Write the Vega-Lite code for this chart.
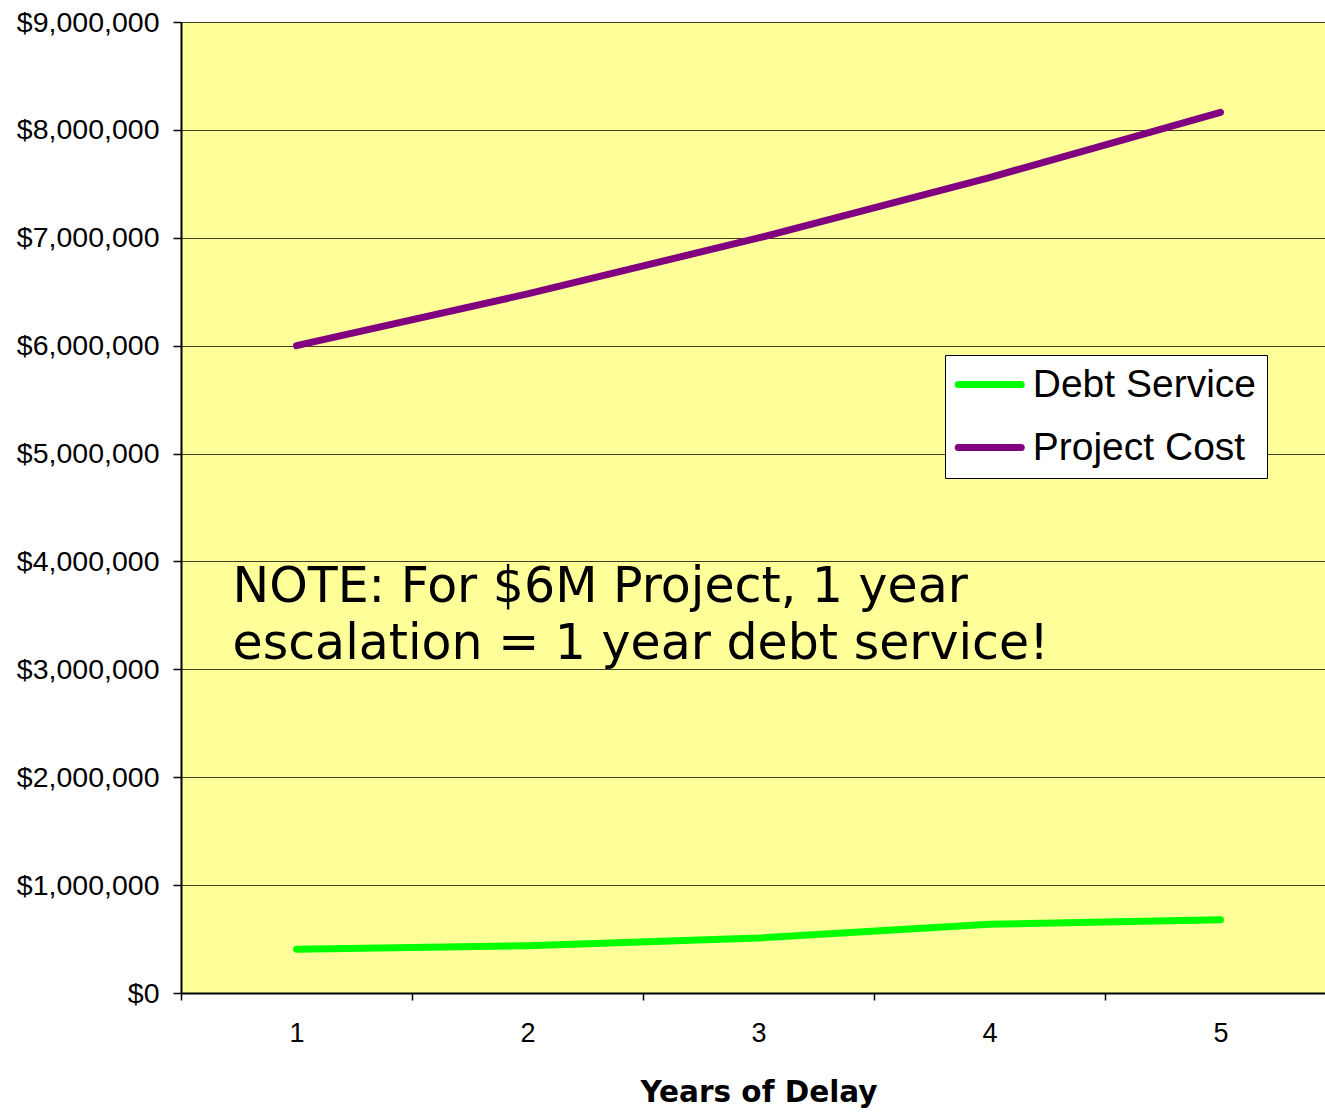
{
  "$schema": "https://vega.github.io/schema/vega-lite/v6.json",
  "autosize": "none",
  "width": 1155,
  "height": 971,
  "padding": {"left": 181, "top": 22, "right": 0, "bottom": 121},
  "background": "#ffffff",
  "datasets": {
    "series": [
      {"year": "1", "series": "Debt Service", "value": 405000},
      {"year": "2", "series": "Debt Service", "value": 438000},
      {"year": "3", "series": "Debt Service", "value": 510000},
      {"year": "4", "series": "Debt Service", "value": 637000},
      {"year": "5", "series": "Debt Service", "value": 679000},
      {"year": "1", "series": "Project Cost", "value": 6000000},
      {"year": "2", "series": "Project Cost", "value": 6480000},
      {"year": "3", "series": "Project Cost", "value": 6998400},
      {"year": "4", "series": "Project Cost", "value": 7558272},
      {"year": "5", "series": "Project Cost", "value": 8162934}
    ],
    "note": [
      {"year": "1", "value": 3624000, "text": ["NOTE: For $6M Project, 1 year", "escalation = 1 year debt service!"]}
    ]
  },
  "layer": [
    {
      "data": {"name": "series"},
      "mark": {"type": "line", "strokeWidth": 7, "strokeCap": "round", "strokeJoin": "round"},
      "encoding": {
        "x": {
          "field": "year", "type": "ordinal",
          "scale": {"paddingInner": 0, "paddingOuter": 0},
          "axis": {
            "title": "Years of Delay", "labelAngle": 0, "tickBand": "extent",
            "grid": false, "domainColor": "#000000", "domainWidth": 2,
            "tickColor": "#000000", "tickSize": 7, "tickWidth": 1.5,
            "labelFont": "Liberation Sans", "labelFontSize": 27, "labelColor": "#000000",
            "labelPadding": 20,
            "titleFont": "DejaVu Sans", "titleFontWeight": "bold", "titleFontSize": 29.5,
            "titleColor": "#000000", "titlePadding": 32
          }
        },
        "y": {
          "field": "value", "type": "quantitative",
          "scale": {"domain": [0, 9000000], "nice": false, "zero": true},
          "axis": {
            "title": null, "values": [0, 1000000, 2000000, 3000000, 4000000, 5000000, 6000000, 7000000, 8000000, 9000000],
            "format": "$,.0f", "grid": true, "gridColor": "#000000", "gridWidth": 1, "gridOpacity": 0.75,
            "domainColor": "#000000", "domainWidth": 2,
            "tickColor": "#000000", "tickSize": 8, "tickWidth": 1.5,
            "labelFont": "Liberation Sans", "labelFontSize": 28.5, "labelColor": "#000000",
            "labelPadding": 14
          }
        },
        "color": {
          "field": "series", "type": "nominal",
          "scale": {"domain": ["Debt Service", "Project Cost"], "range": ["#00FF00", "#800080"]},
          "legend": {
            "title": null, "orient": "none", "legendX": 764, "legendY": 333,
            "fillColor": "#ffffff", "strokeColor": "#000000",
            "padding": 10, "rowPadding": 23,
            "symbolType": "M -2 0 L 2 0", "symbolSize": 992, "symbolStrokeWidth": 7,
            "symbolOffset": 15.25,
            "labelFont": "Liberation Sans", "labelFontSize": 39, "labelColor": "#000000",
            "labelOffset": 23.5, "labelLimit": 400,
            "encode": {"symbols": {"update": {"strokeCap": {"value": "round"}}}}
          }
        }
      }
    },
    {
      "data": {"name": "note"},
      "mark": {"type": "text", "align": "left", "baseline": "alphabetic", "dx": -64,
               "font": "DejaVu Sans", "fontSize": 49, "lineHeight": 57, "color": "#000000"},
      "encoding": {
        "x": {"field": "year", "type": "ordinal"},
        "y": {"field": "value", "type": "quantitative"},
        "text": {"field": "text"}
      }
    }
  ],
  "config": {
    "view": {"fill": "#FFFF99", "stroke": null}
  }
}
